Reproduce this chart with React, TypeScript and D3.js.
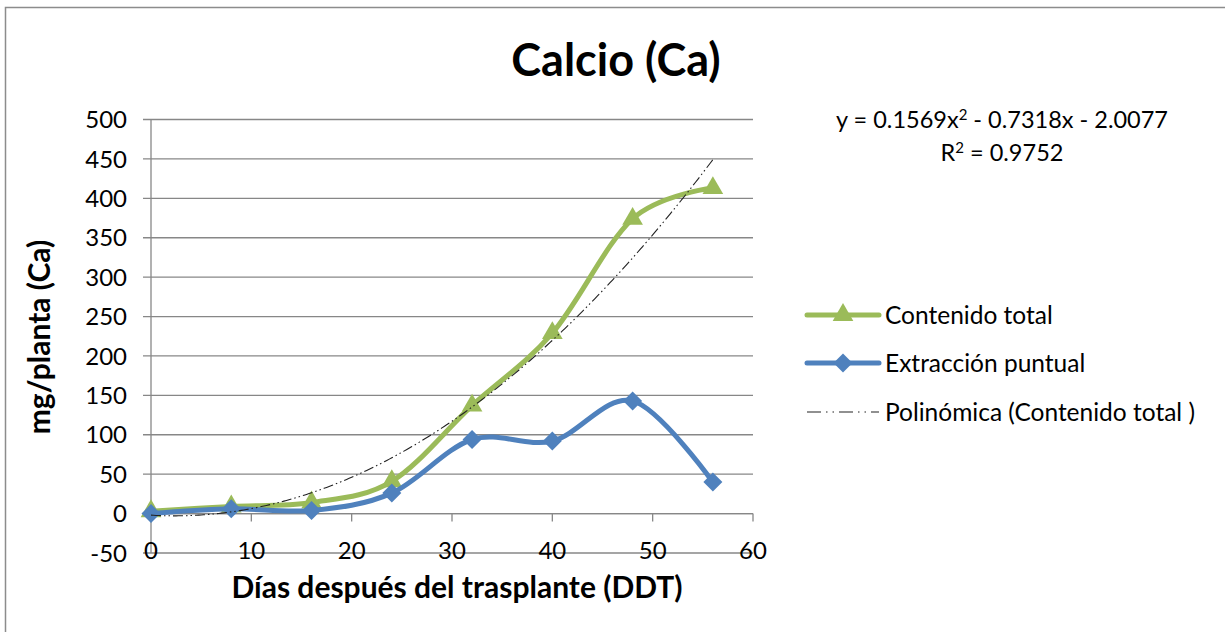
import React from 'react';
import * as d3 from 'd3';

const days = [0, 8, 16, 24, 32, 40, 48, 56];
const contenidoTotal = [3, 9, 14, 41, 137, 229, 374, 413];
const extraccionPuntual = [0, 6, 4, 26, 94, 92, 143, 40];
const trendCoefs = [0.1569, -0.7318, -2.0077];
const trendRange = [0, 56];
const yTicks = [-50, 0, 50, 100, 150, 200, 250, 300, 350, 400, 450, 500];
const xTicks = [0, 10, 20, 30, 40, 50, 60];
const title = 'Calcio (Ca)';
const xTitle = 'Días después del trasplante (DDT)';
const yTitle = 'mg/planta (Ca)';
const equationText = ['y = 0.1569x', '2', ' - 0.7318x - 2.0077'];
const r2Text = ['R', '2', ' = 0.9752'];
const legendLabels = ['Contenido total', 'Extracción puntual', 'Polinómica (Contenido total )'];

const GREEN = '#9BBB59';
const BLUE = '#4F81BD';
const GRID = '#878787';
const FONT = "Lato, 'Open Sans', sans-serif";

export default function App() {
  const W = 1225, H = 632;
  const x = d3.scaleLinear().domain([0, 60]).range([151, 753]);
  const y = d3.scaleLinear().domain([-50, 500]).range([553, 119.5]);

  const line = d3.line<number>()
    .x((_, i) => x(days[i]))
    .y((d) => y(d))
    .curve(d3.curveCardinal.tension(0));

  const trendPts = d3.range(trendRange[0], trendRange[1] + 0.001, 0.25).map((t) => [
    t,
    trendCoefs[0] * t * t + trendCoefs[1] * t + trendCoefs[2],
  ]);
  const trendLine = d3.line<number[]>().x((d) => x(d[0])).y((d) => y(d[1]));

  const tri = d3.symbol().type(d3.symbolTriangle).size(185)() as string;
  const dia = (s: number) => `M0,${-s}L${s},0L0,${s}L${-s},0Z`;

  const legX0 = 807, legX1 = 879, legTextX = 885;
  const legYs = [315, 363, 412];

  return (
    <svg width={W} height={H} style={{ position: 'absolute', left: 0, top: 0, background: '#fff' }} fontFamily={FONT}>
      <rect x={0} y={0} width={W} height={H} fill="#fff" />
      <rect x={5.5} y={7.5} width={W + 20} height={H + 20} fill="none" stroke="#8c8c8c" strokeWidth={1.5} />

      {/* gridlines */}
      {yTicks.map((t) => (
        <line key={'g' + t} x1={143} x2={x(60)} y1={y(t)} y2={y(t)} stroke={GRID} strokeWidth={1.3} />
      ))}
      {/* vertical axis */}
      <line x1={x(0)} x2={x(0)} y1={y(500)} y2={y(-50)} stroke={GRID} strokeWidth={1.3} />
      {/* horizontal axis at 0 with ticks */}
      <line x1={x(0)} x2={x(60)} y1={y(0)} y2={y(0)} stroke={GRID} strokeWidth={1.3} />
      {xTicks.map((t) => (
        <line key={'xt' + t} x1={x(t)} x2={x(t)} y1={y(0)} y2={y(0) + 8} stroke={GRID} strokeWidth={1.3} />
      ))}

      {/* y tick labels */}
      {yTicks.map((t) => (
        <text key={'yl' + t} x={127} y={y(t)} dy="0.36em" textAnchor="end" fontSize={24} fill="#000">
          {t}
        </text>
      ))}
      {/* x tick labels */}
      {xTicks.map((t) => (
        <text key={'xl' + t} x={x(t)} y={559} textAnchor="middle" fontSize={24} fill="#000">
          {t}
        </text>
      ))}

      {/* series */}
      <path d={line(contenidoTotal) || ''} fill="none" stroke={GREEN} strokeWidth={5} strokeLinejoin="round" />
      {contenidoTotal.map((v, i) => (
        <path key={'tri' + i} d={tri} transform={`translate(${x(days[i])},${y(v)})`} fill={GREEN} />
      ))}
      <path d={line(extraccionPuntual) || ''} fill="none" stroke={BLUE} strokeWidth={5} strokeLinejoin="round" />
      {extraccionPuntual.map((v, i) => (
        <path key={'dia' + i} d={dia(9.5)} transform={`translate(${x(days[i])},${y(v)})`} fill={BLUE} />
      ))}
      <path d={trendLine(trendPts) || ''} fill="none" stroke="#222" strokeWidth={1.1} strokeDasharray="10,3,1.5,3,1.5,3" />

      {/* titles */}
      <text x={616} y={76} textAnchor="middle" fontSize={45} fontWeight="bold" fill="#000">{title}</text>
      <text x={457} y={598} textAnchor="middle" fontSize={30} fontWeight="bold" fill="#000">{xTitle}</text>
      <text transform="translate(50,337) rotate(-90)" textAnchor="middle" fontSize={30} fontWeight="bold" fill="#000">{yTitle}</text>

      {/* equation */}
      <text x={1002} y={128} textAnchor="middle" fontSize={23.5} fill="#000">
        {equationText[0]}
        <tspan dy={-8} fontSize={15}>{equationText[1]}</tspan>
        <tspan dy={8}>{equationText[2]}</tspan>
      </text>
      <text x={1002} y={161} textAnchor="middle" fontSize={23.5} fill="#000">
        {r2Text[0]}
        <tspan dy={-8} fontSize={15}>{r2Text[1]}</tspan>
        <tspan dy={8}>{r2Text[2]}</tspan>
      </text>

      {/* legend */}
      <line x1={legX0} x2={legX1} y1={legYs[0]} y2={legYs[0]} stroke={GREEN} strokeWidth={5} strokeLinecap="round" />
      <path d={tri} transform={`translate(${(legX0 + legX1) / 2},${legYs[0]})`} fill={GREEN} />
      <line x1={legX0} x2={legX1} y1={legYs[1]} y2={legYs[1]} stroke={BLUE} strokeWidth={5} strokeLinecap="round" />
      <path d={dia(9.5)} transform={`translate(${(legX0 + legX1) / 2},${legYs[1]})`} fill={BLUE} />
      <line x1={legX0} x2={legX1} y1={legYs[2]} y2={legYs[2]} stroke="#222" strokeWidth={1.1} strokeDasharray="14,5,1.5,5,1.5,5" />
      {legendLabels.map((l, i) => (
        <text key={'lg' + i} x={legTextX} y={legYs[i]} dy="0.36em" fontSize={24.5} fill="#000">{l}</text>
      ))}
    </svg>
  );
}
